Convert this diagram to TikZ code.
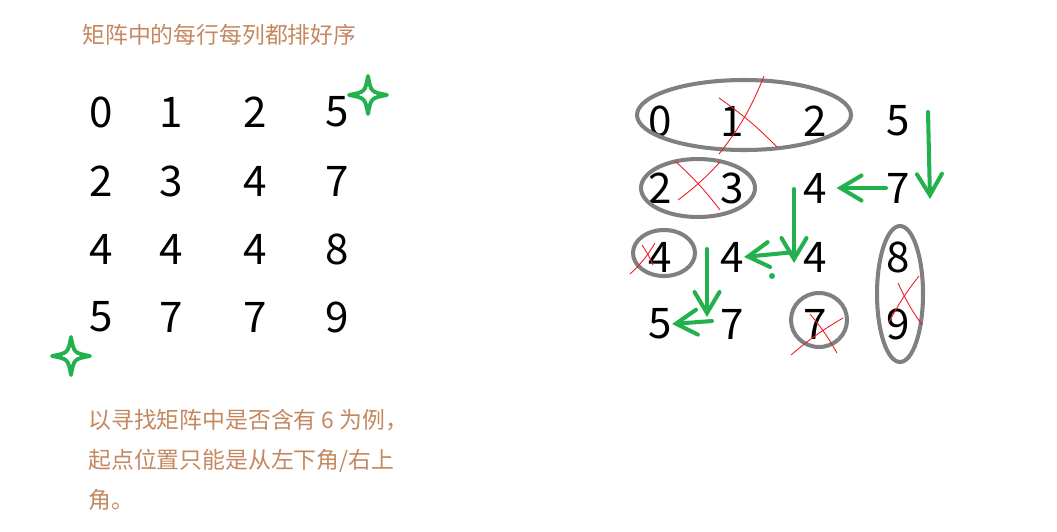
\documentclass[tikz,border=0pt]{standalone}
\usepackage{fontspec}
\setmainfont{Noto Sans CJK SC}
\usepackage{xcolor}
\usetikzlibrary{arrows.meta}
\definecolor{notebrown}{RGB}{196,136,96}
\definecolor{pengreen}{RGB}{34,177,76}
\definecolor{ringgray}{RGB}{128,128,128}
\definecolor{crossred}{RGB}{237,28,36}

\begin{document}
\begin{tikzpicture}[
  x=0.02cm, y=-0.02cm,
  num/.style={inner sep=0pt, font=\fontsize{24pt}{28pt}\selectfont},
  note/.style={inner sep=0pt, anchor=base west, text=notebrown, font=\fontsize{13pt}{16pt}\selectfont},
  ring/.style={draw=ringgray, line width=2.3pt},
  cross/.style={draw=crossred, line width=0.5pt},
  mv/.style={draw=pengreen, line width=2.3pt, line cap=round,
    -{Straight Barb[length=0.42cm, width=0.5cm, line cap=round]}},
  spark/.pic={\draw[pengreen, line width=2.2pt, line join=round]
    (0,-19) .. controls (3,-3) .. (19,0) .. controls (3,3) .. (0,19)
    .. controls (-3,3) .. (-19,0) .. controls (-3,-3) .. (0,-19) -- cycle;}
]
  \useasboundingbox (0,0) rectangle (1057,531);

  %--- Title ---
  \node[note] (title) at (82,43) {矩阵中的每行每列都排好序};

  %--- Left matrix ---
  \node[num] (m11) at (101,112) {0};
  \node[num] (m12) at (171,112) {1};
  \node[num] (m13) at (255,112) {2};
  \node[num] (m14) at (337,112) {5};
  \node[num] (m21) at (101,181) {2};
  \node[num] (m22) at (171,181) {3};
  \node[num] (m23) at (255,181) {4};
  \node[num] (m24) at (337,181) {7};
  \node[num] (m31) at (101,249) {4};
  \node[num] (m32) at (171,249) {4};
  \node[num] (m33) at (255,249) {4};
  \node[num] (m34) at (337,249) {8};
  \node[num] (m41) at (101,317) {5};
  \node[num] (m42) at (171,317) {7};
  \node[num] (m43) at (255,317) {7};
  \node[num] (m44) at (337,317) {9};

  % Start corners
  \pic at (368,95) {spark};
  \pic at (71,356) {spark};

  %--- Note ---
  \node[note] (note1) at (88,428) {以寻找矩阵中是否含有 6 为例，};
  \node[note] (note2) at (88,468) {起点位置只能是从左下角/右上};
  \node[note] (note3) at (88,508) {角。};

  %--- Right matrix ---
  \node[num] (r11) at (660,121) {0};
  \node[num] (r12) at (732,121) {1};
  \node[num] (r13) at (815,121) {2};
  \node[num] (r14) at (898,121) {5};
  \node[num] (r21) at (660,188) {2};
  \node[num] (r22) at (732,188) {3};
  \node[num] (r23) at (815,188) {4};
  \node[num] (r24) at (898,188) {7};
  \node[num] (r31) at (660,257) {4};
  \node[num] (r32) at (732,257) {4};
  \node[num] (r33) at (815,257) {4};
  \node[num] (r34) at (898,257) {8};
  \node[num] (r41) at (660,324) {5};
  \node[num] (r42) at (732,324) {7};
  \node[num] (r43) at (815,324) {7};
  \node[num] (r44) at (898,324) {9};

  % Discarded parts
  \draw[ring] (744,115) ellipse [x radius=107, y radius=35];
  \draw[ring] (698,188) ellipse [x radius=57, y radius=29];
  \draw[ring] (664,253) ellipse [x radius=31, y radius=23];
  \draw[ring] (819,320) ellipse [x radius=28, y radius=27];
  \draw[ring] (900,294) ellipse [x radius=23, y radius=68];

  \draw[cross] (764,76) to[bend left=8] (719,154);
  \draw[cross] (719,98) to[bend left=5] (777,147);
  \draw[cross] (675,161) to[bend left=5] (720,210);
  \draw[cross] (720,162) to[bend left=5] (678,200);
  \draw[cross] (630,274) to[bend right=8] (655,243);
  \draw[cross] (642,245) to[bend left=5] (653,265);
  \draw[cross] (791,355) to[bend left=5] (843,318);
  \draw[cross] (810,314) to[bend left=5] (837,353);
  \draw[cross] (898,283) to[bend right=5] (922,325);
  \draw[cross] (919,276) to[bend right=5] (889,322);

  % Search path
  \coordinate (d1a) at (928,112);
  \coordinate (d1b) at (930,199);
  \coordinate (d2a) at (794,189);
  \coordinate (d2b) at (794,263);
  \coordinate (l2a) at (795,252);
  \coordinate (d3a) at (707,249);
  \coordinate (d3b) at (707,317);
  \coordinate (l3a) at (712,321);

  \draw[mv] (d1a) -- (d1b);
  \draw[mv, shorten >=0.19cm] (r24.west) -- (r23.east);
  \draw[mv] (d2a) -- (d2b);
  \draw[mv] (l2a) -- (r32.east);
  \draw[mv] (d3a) -- (d3b);
  \draw[mv] (l3a) -- (r41.east);
  \fill[pengreen] (772,276) circle [radius=3];
\end{tikzpicture}
\end{document}
